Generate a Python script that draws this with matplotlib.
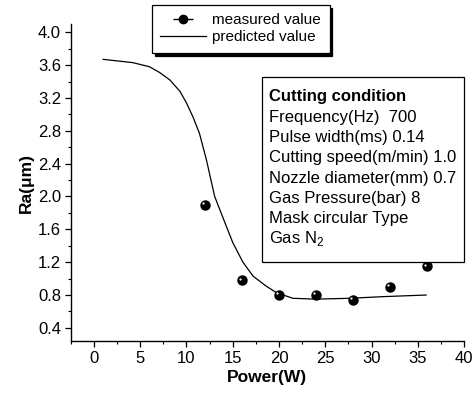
import numpy as np
import matplotlib
matplotlib.use("Agg")
import matplotlib.pyplot as plt
from matplotlib.lines import Line2D
from matplotlib.patches import Rectangle
from matplotlib.transforms import offset_copy

plt.rcParams['font.family'] = ['Liberation Sans', 'DejaVu Sans']
plt.rcParams['mathtext.fontset'] = 'custom'
plt.rcParams['mathtext.rm'] = 'Liberation Sans'

# measured points
power_meas = [12, 16, 20, 24, 28, 32, 36]
ra_meas = [1.90, 0.98, 0.80, 0.80, 0.74, 0.90, 1.15]

# predicted curve
power_pred = [1.0, 4.2, 6.0, 7.1, 8.2, 9.3, 10.0, 10.7, 11.4, 12.15, 13.05, 14.3, 15.0,
              16.1, 17.2, 18.6, 19.7, 21.5, 24.0, 27.6, 31.2, 35.9]
ra_pred = [3.67, 3.63, 3.58, 3.51, 3.42, 3.28, 3.14, 2.97, 2.77, 2.45, 2.00, 1.64, 1.44,
           1.20, 1.03, 0.91, 0.83, 0.76, 0.75, 0.76, 0.78, 0.80]

conditions = ["Frequency(Hz)  700",
              "Pulse width(ms) 0.14",
              "Cutting speed(m/min) 1.0",
              "Nozzle diameter(mm) 0.7",
              "Gas Pressure(bar) 8",
              "Mask circular Type",
              "Gas N$_\\mathregular{2}$"]

fig = plt.figure(figsize=(4.75, 3.94), dpi=100)
ax = fig.add_axes([0.149, 0.1345, 0.828, 0.8045])

ax.plot(power_pred, ra_pred, color='black', lw=0.9, solid_joinstyle='round')
ax.plot(power_meas, ra_meas, 'o', color='black', ms=6.5, zorder=3)
hl = offset_copy(ax.transData, fig=fig, x=-1.2, y=1.2, units='points')
ax.plot(power_meas, ra_meas, 'o', color='white', ms=1.6, mec='none', transform=hl, zorder=4)

ax.set_xlim(-2.5, 40)
ax.set_ylim(0.24, 4.1)
ax.set_xticks(np.arange(0, 41, 5))
ax.set_xticks(np.arange(-2.5, 40.1, 2.5), minor=True)
ax.set_yticks(np.arange(0.4, 4.01, 0.4))
ax.set_yticks(np.arange(0.4, 4.11, 0.2), minor=True)
ax.yaxis.set_major_formatter(plt.FormatStrFormatter('%.1f'))
ax.tick_params(which='major', direction='out', length=4.5, width=0.9, labelsize=12, pad=2.5)
ax.tick_params(which='minor', direction='out', length=2.5, width=0.8)
ax.spines['top'].set_visible(False)
ax.spines['right'].set_visible(False)
ax.spines['left'].set_linewidth(1.0)
ax.spines['bottom'].set_linewidth(1.0)

ax.set_xlabel('Power(W)', fontsize=12.5, fontweight='bold', labelpad=3)
ax.set_ylabel('Ra(\u03bcm)', fontsize=12.5, fontweight='bold', labelpad=3)

# condition box
ax.add_patch(Rectangle((0.486, 0.249), 0.514, 0.584, transform=ax.transAxes,
                       facecolor='white', edgecolor='black', lw=0.9, zorder=5, clip_on=False))
ax.text(0.505, 0.77, "Cutting condition", transform=ax.transAxes, fontsize=12,
        fontweight='bold', va='center', zorder=6)
for i, line in enumerate(conditions):
    ax.text(0.505, 0.77 - (i + 1) * 0.064, line, transform=ax.transAxes,
            fontsize=12, va='center', zorder=6)

meas_handle = (Line2D([], [], color='black', marker='_', ms=14, mew=1.0, ls='none'),
               Line2D([], [], color='black', marker='o', ms=6, ls='none'))
pred_handle = Line2D([], [], color='black', lw=0.9)
leg = fig.legend([meas_handle, pred_handle], ['measured value', 'predicted value'],
                 loc='upper left', bbox_to_anchor=(152 / 475, 1 - 5 / 394),
                 fontsize=11, fancybox=False, edgecolor='black', framealpha=1,
                 handlelength=3.0, handletextpad=0.4, labelspacing=0.2,
                 borderpad=0.55, borderaxespad=0,
                 shadow={'color': 'black', 'alpha': 1})
leg.get_frame().set_linewidth(0.9)

fig.savefig('out.png', dpi=100)
